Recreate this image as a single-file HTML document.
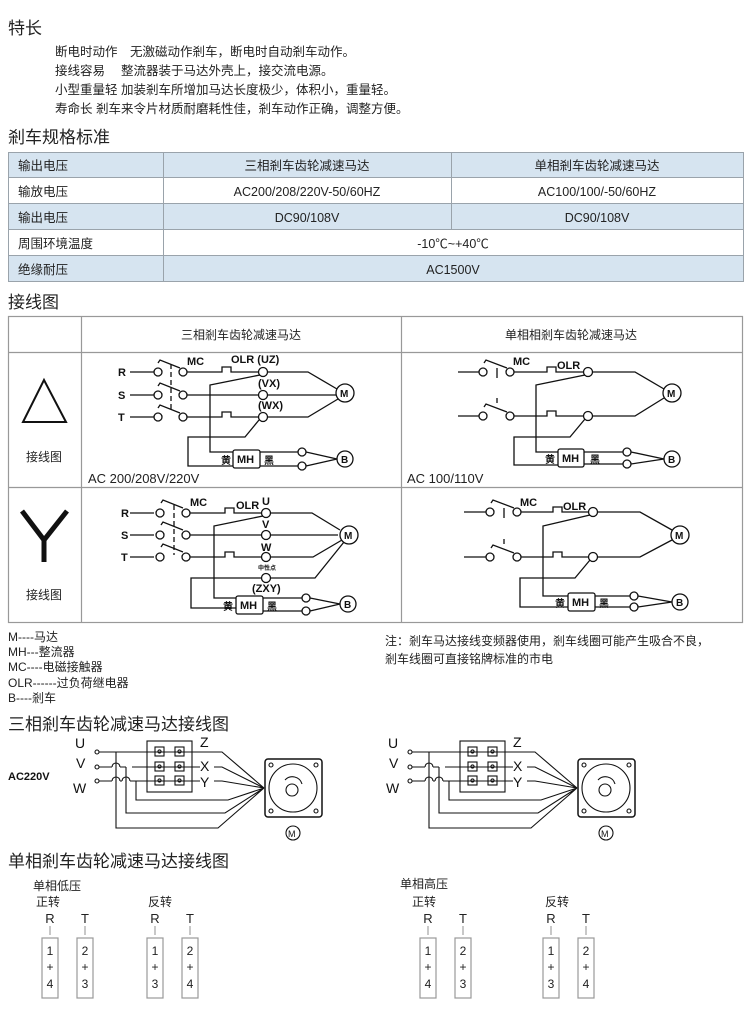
<!DOCTYPE html>
<html><head><meta charset="utf-8"><style>
html,body{margin:0;padding:0;background:#fff;}
svg{display:block;font-family:"Liberation Sans","Noto Sans CJK SC",sans-serif;}
</style></head><body>
<svg width="750" height="1013" viewBox="0 0 750 1013" xmlns="http://www.w3.org/2000/svg">
<defs>
<g id="dl" fill="none" stroke="#111" stroke-width="1.3">
</g>
</defs>
<!-- Section 1 -->
<g fill="#222">
<text x="8" y="34" font-size="17">特长</text>
<g font-size="12.5">
<text x="55" y="56">断电时动作　无激磁动作剎车，断电时自动剎车动作。</text>
<text x="55" y="75">接线容易　 整流器装于马达外壳上，接交流电源。</text>
<text x="55" y="94">小型重量轻 加装剎车所增加马达长度极少，体积小，重量轻。</text>
<text x="55" y="113">寿命长 剎车来令片材质耐磨耗性佳，剎车动作正确，调整方便。</text>
</g>
<text x="8" y="143" font-size="17">剎车规格标准</text>
</g>
<!-- Spec table -->
<g stroke="#9aa3ab" stroke-width="1">
<rect x="8.5" y="152.5" width="735" height="25" fill="#d6e4f0"/>
<rect x="8.5" y="177.5" width="735" height="26" fill="#fff"/>
<rect x="8.5" y="203.5" width="735" height="26" fill="#d6e4f0"/>
<rect x="8.5" y="229.5" width="735" height="26" fill="#fff"/>
<rect x="8.5" y="255.5" width="735" height="26" fill="#d6e4f0"/>
<line x1="163.5" y1="152" x2="163.5" y2="282"/>
<line x1="451.5" y1="152" x2="451.5" y2="229"/>
</g>
<g fill="#222" font-size="12.5">
<text x="18" y="170">输出电压</text>
<text x="18" y="196">输放电压</text>
<text x="18" y="222">输出电压</text>
<text x="18" y="248">周围环境温度</text>
<text x="18" y="274">绝缘耐压</text>
<g text-anchor="middle">
<text x="307" y="170">三相剎车齿轮减速马达</text>
<text x="597" y="170">单相剎车齿轮减速马达</text>
<text x="307" y="196">AC200/208/220V-50/60HZ</text>
<text x="597" y="196">AC100/100/-50/60HZ</text>
<text x="307" y="222">DC90/108V</text>
<text x="597" y="222">DC90/108V</text>
<text x="453" y="248">-10℃~+40℃</text>
<text x="453" y="274">AC1500V</text>
</g>
</g>
<text x="8" y="308" font-size="17" fill="#222">接线图</text>
<!-- wiring table -->
<g stroke="#999" stroke-width="1.2" fill="none">
<rect x="8.5" y="316.5" width="734" height="306"/>
<line x1="8" y1="352.5" x2="743" y2="352.5"/>
<line x1="8" y1="487.5" x2="743" y2="487.5"/>
<line x1="81.5" y1="316" x2="81.5" y2="623"/>
<line x1="401.5" y1="316" x2="401.5" y2="623"/>
</g>
<g fill="#222" font-size="12">
<text x="241" y="339" text-anchor="middle">三相剎车齿轮减速马达</text>
<text x="571" y="339" text-anchor="middle">单相相剎车齿轮减速马达</text>
<text x="26" y="461">接线图</text>
<text x="26" y="599">接线图</text>
<text x="88" y="483" font-size="13">AC 200/208V/220V</text>
<text x="407" y="483" font-size="13">AC 100/110V</text>
</g>
<polygon points="44,380 23,422 66,422" fill="none" stroke="#111" stroke-width="2"/>
<path d="M22,511 L44,540 L67,511 M44,540 L44,562" fill="none" stroke="#111" stroke-width="5"/>

<!-- Left delta diagram -->
<g fill="none" stroke="#111" stroke-width="1.3">
<g id="phase3">
<path d="M130,372H154 M130,395H154 M130,417H154"/>
<circle cx="158" cy="372" r="4"/><circle cx="183" cy="372" r="4"/>
<circle cx="158" cy="395" r="4"/><circle cx="183" cy="395" r="4"/>
<circle cx="158" cy="417" r="4"/><circle cx="183" cy="417" r="4"/>
<path d="M158,363 l2,-3 l20,8 M158,386 l2,-3 l20,8 M158,408 l2,-3 l20,8"/>
<line x1="171" y1="364" x2="171" y2="412" stroke-dasharray="5,3"/>
<path d="M187,372H222V367H231V372H259 M187,395H259 M187,417H222V412H231V417H259"/>
<circle cx="263" cy="372" r="4.5"/><circle cx="263" cy="395" r="4.5"/><circle cx="263" cy="417" r="4.5"/>
<path d="M267,372H308L337,389 M267,395H336 M267,417H308L338,399"/>
<circle cx="345" cy="393" r="9"/>
<path d="M260,375L210,385V452H233 M259,420L245,437H188V466H233"/>
<rect x="233" y="450" width="27" height="18" rx="2"/>
<path d="M260,452H298 M260,466H298"/>
<circle cx="302" cy="452" r="4"/><circle cx="302" cy="466" r="4"/>
<path d="M306,452L337,459 M306,466L337,459"/>
<circle cx="345" cy="459" r="8"/>
</g>
</g>
<g fill="#111" font-size="11" font-weight="bold">
<text x="118" y="376">R</text><text x="118" y="399">S</text><text x="118" y="421">T</text>
<text x="187" y="365">MC</text><text x="231" y="363">OLR (UZ)</text>
<text x="258" y="387">(VX)</text><text x="258" y="409">(WX)</text>
<text x="340" y="397" font-size="10">M</text><text x="341" y="463" font-size="10">B</text>
<text x="237" y="463">MH</text><text x="221" y="464" font-size="10">黄</text><text x="264" y="464" font-size="10">黑</text>
</g>

<!-- Left Y diagram -->
<g fill="none" stroke="#111" stroke-width="1.3">
<path d="M130,513H154 M130,535H154 M130,557H154"/>
<circle cx="160" cy="513" r="4"/><circle cx="186" cy="513" r="4"/>
<circle cx="160" cy="535" r="4"/><circle cx="186" cy="535" r="4"/>
<circle cx="160" cy="557" r="4"/><circle cx="186" cy="557" r="4"/>
<path d="M161,503 l2,-3 l20,8 M161,525 l2,-3 l20,8 M161,547 l2,-3 l20,8"/>
<line x1="174" y1="505" x2="174" y2="555" stroke-dasharray="5,3"/>
<path d="M190,513H225V508H234V513H262 M190,535H262 M190,557H225V552H234V557H262"/>
<circle cx="266" cy="513" r="4.5"/><circle cx="266" cy="535" r="4.5"/><circle cx="266" cy="557" r="4.5"/><circle cx="266" cy="578" r="4.5"/>
<path d="M270,513H312L340,530 M270,535H338 M270,557H313L342,540 M270,578H315L344,542"/>
<circle cx="349" cy="535" r="9"/>
<path d="M263,516L214,526V598H236 M262,578H191V608H236"/>
<rect x="236" y="596" width="27" height="18" rx="2"/>
<path d="M263,598H302 M263,611H302"/>
<circle cx="306" cy="598" r="4"/><circle cx="306" cy="611" r="4"/>
<path d="M310,598L340,604 M310,611L340,604"/>
<circle cx="348" cy="604" r="8"/>
</g>
<g fill="#111" font-size="11" font-weight="bold">
<text x="121" y="517">R</text><text x="121" y="539">S</text><text x="121" y="561">T</text>
<text x="190" y="506">MC</text><text x="236" y="509">OLR</text><text x="262" y="505">U</text>
<text x="262" y="528">V</text><text x="261" y="551">W</text>
<text x="258" y="570" font-size="6">中性点</text><text x="252" y="592">(ZXY)</text>
<text x="344" y="539" font-size="10">M</text><text x="344" y="608" font-size="10">B</text>
<text x="240" y="609">MH</text><text x="223" y="610" font-size="10">黄</text><text x="267" y="610" font-size="10">黑</text>
</g>

<!-- Right single-phase (top) -->
<g fill="none" stroke="#111" stroke-width="1.3">
<path d="M458,372H479 M458,416H479"/>
<circle cx="483" cy="372" r="4"/><circle cx="510" cy="372" r="4"/>
<circle cx="483" cy="416" r="4"/><circle cx="510" cy="416" r="4"/>
<path d="M484,363 l2,-3 l21,8 M484,407 l2,-3 l21,8"/>
<line x1="497" y1="368" x2="497" y2="378"/><line x1="497" y1="398" x2="497" y2="403"/>
<path d="M514,372H547V367H556V372H584 M514,416H547V411H556V416H584"/>
<circle cx="588" cy="372" r="4.5"/><circle cx="588" cy="416" r="4.5"/>
<path d="M592,372H635L664,389 M592,416H635L664,398"/>
<circle cx="672" cy="393" r="9"/>
<path d="M585,375L536,385V452H558 M585,419L570,437H514V465H558"/>
<rect x="558" y="449" width="26" height="18" rx="2"/>
<path d="M584,452H623 M584,464H623"/>
<circle cx="627" cy="452" r="4"/><circle cx="627" cy="464" r="4"/>
<path d="M631,452L664,459 M631,464L664,459"/>
<circle cx="672" cy="459" r="8"/>
</g>
<g fill="#111" font-size="11" font-weight="bold">
<text x="513" y="365">MC</text><text x="557" y="369">OLR</text>
<text x="667" y="397" font-size="10">M</text><text x="668" y="463" font-size="10">B</text>
<text x="562" y="462">MH</text><text x="545" y="463" font-size="10">黄</text><text x="590" y="463" font-size="10">黑</text>
</g>
<!-- Right single-phase (Y) -->
<g fill="none" stroke="#111" stroke-width="1.3">
<path d="M464,512H486 M464,557H486"/>
<circle cx="490" cy="512" r="4"/><circle cx="517" cy="512" r="4"/>
<circle cx="490" cy="557" r="4"/><circle cx="517" cy="557" r="4"/>
<path d="M491,503 l2,-3 l21,8 M491,548 l2,-3 l21,8"/>
<line x1="504" y1="508" x2="504" y2="518"/><line x1="504" y1="539" x2="504" y2="544"/>
<path d="M521,512H553V507H562V512H589 M521,557H553V552H562V557H589"/>
<circle cx="593" cy="512" r="4.5"/><circle cx="593" cy="557" r="4.5"/>
<path d="M597,512H640L672,530 M597,557H640L672,540"/>
<circle cx="680" cy="535" r="9"/>
<path d="M590,515L543,526V596H568 M590,560L575,578H520V607H568"/>
<rect x="568" y="593" width="27" height="18" rx="2"/>
<path d="M595,596H630 M595,607H630"/>
<circle cx="634" cy="596" r="4"/><circle cx="634" cy="607" r="4"/>
<path d="M638,596L672,602 M638,607L672,602"/>
<circle cx="680" cy="602" r="8"/>
</g>
<g fill="#111" font-size="11" font-weight="bold">
<text x="520" y="506">MC</text><text x="563" y="510">OLR</text>
<text x="675" y="539" font-size="10">M</text><text x="676" y="606" font-size="10">B</text>
<text x="572" y="606">MH</text><text x="555" y="607" font-size="10">黄</text><text x="599" y="607" font-size="10">黑</text>
</g>

<!-- legend -->
<g fill="#222" font-size="12">
<text x="8" y="641">M----马达</text>
<text x="8" y="656">MH---整流器</text>
<text x="8" y="671">MC----电磁接触器</text>
<text x="8" y="687">OLR------过负荷继电器</text>
<text x="8" y="702">B----剎车</text>
<text x="385" y="645">注：剎车马达接线变频器使用，剎车线圈可能产生吸合不良，</text>
<text x="385" y="663">剎车线圈可直接铭牌标准的市电</text>
<text x="8" y="730" font-size="17">三相剎车齿轮减速马达接线图</text>
<text x="8" y="867" font-size="17">单相剎车齿轮减速马达接线图</text>
</g>

<!-- three-phase connection diagrams -->
<g id="tp" fill="none" stroke="#111" stroke-width="1.1">
<circle cx="97" cy="752" r="2"/><circle cx="97" cy="767" r="2"/><circle cx="97" cy="781" r="2"/>
<path d="M99,752H222L264,788 M99,767H112 M120,767H126 M132,767H200 M99,781H112 M120,781H122 M130,781H200"/>
<path d="M112,767a4,4 0 0 1 8,0 M112,781a4,4 0 0 1 8,0 M122,781a4,4 0 0 1 8,0"/>
<path d="M116,752V828H218L264,788 M126,767V813H225L264,788 M136,781V800H228L264,788"/>
<path d="M214,767H222L264,788 M214,781H222L264,788"/>
<rect x="147" y="741" width="45" height="51"/>
<rect x="155" y="747" width="9" height="9"/><rect x="175" y="747" width="9" height="9"/>
<rect x="155" y="762" width="9" height="9"/><rect x="175" y="762" width="9" height="9"/>
<rect x="155" y="776" width="9" height="9"/><rect x="175" y="776" width="9" height="9"/>
<circle cx="159.5" cy="751.5" r="1.6"/><circle cx="179.5" cy="751.5" r="1.6"/>
<circle cx="159.5" cy="766.5" r="1.6"/><circle cx="179.5" cy="766.5" r="1.6"/>
<circle cx="159.5" cy="780.5" r="1.6"/><circle cx="179.5" cy="780.5" r="1.6"/>
<rect x="265" y="759" width="57" height="58" rx="3" stroke-width="1.5"/>
<circle cx="293" cy="788" r="24"/>
<circle cx="292" cy="790" r="6"/>
<path d="M285,780a10,10 0 0 1 17,4"/>
<circle cx="271" cy="765" r="2"/><circle cx="316" cy="765" r="2"/><circle cx="271" cy="811" r="2"/><circle cx="316" cy="811" r="2"/>
<circle cx="293" cy="833" r="7"/>
</g>
<g fill="#111" font-size="14">
<text x="75" y="748">U</text><text x="76" y="768">V</text><text x="73" y="793">W</text>
<text x="200" y="747">Z</text><text x="200" y="771">X</text><text x="200" y="787">Y</text>
<text x="8" y="780" font-size="11" font-weight="bold">AC220V</text>
<text x="288" y="837" font-size="9">M</text>
</g>
<use href="#tp" x="313" y="0"/>
<g fill="#111" font-size="14">
<text x="388" y="748">U</text><text x="389" y="768">V</text><text x="386" y="793">W</text>
<text x="513" y="747">Z</text><text x="513" y="771">X</text><text x="513" y="787">Y</text>
<text x="601" y="837" font-size="9">M</text>
</g>

<!-- single-phase boxes -->
<g id="sp" fill="none" stroke="#999" stroke-width="1.2">
<rect x="42" y="938" width="16" height="60"/><rect x="77" y="938" width="16" height="60"/>
<path d="M50,926V935 M85,926V935" stroke="#777" stroke-width="0.8"/>
</g>
<use href="#sp" x="105" y="0"/>
<use href="#sp" x="378" y="0"/>
<use href="#sp" x="501" y="0"/>
<g fill="#222" font-size="12">
<text x="33" y="890">单相低压</text><text x="36" y="906">正转</text>
<text x="148" y="906">反转</text>
<text x="400" y="888">单相高压</text><text x="412" y="906">正转</text>
<text x="545" y="906">反转</text>
<g font-size="13" text-anchor="middle">
<text x="50" y="923">R</text><text x="85" y="923">T</text>
<text x="155" y="923">R</text><text x="190" y="923">T</text>
<text x="428" y="923">R</text><text x="463" y="923">T</text>
<text x="551" y="923">R</text><text x="586" y="923">T</text>
<g font-size="12">
<text x="50" y="955">1</text><text x="50" y="971">+</text><text x="50" y="988">4</text>
<text x="85" y="955">2</text><text x="85" y="971">+</text><text x="85" y="988">3</text>
<text x="155" y="955">1</text><text x="155" y="971">+</text><text x="155" y="988">3</text>
<text x="190" y="955">2</text><text x="190" y="971">+</text><text x="190" y="988">4</text>
<text x="428" y="955">1</text><text x="428" y="971">+</text><text x="428" y="988">4</text>
<text x="463" y="955">2</text><text x="463" y="971">+</text><text x="463" y="988">3</text>
<text x="551" y="955">1</text><text x="551" y="971">+</text><text x="551" y="988">3</text>
<text x="586" y="955">2</text><text x="586" y="971">+</text><text x="586" y="988">4</text>
</g>
</g>
</g>
</svg>
</body></html>
